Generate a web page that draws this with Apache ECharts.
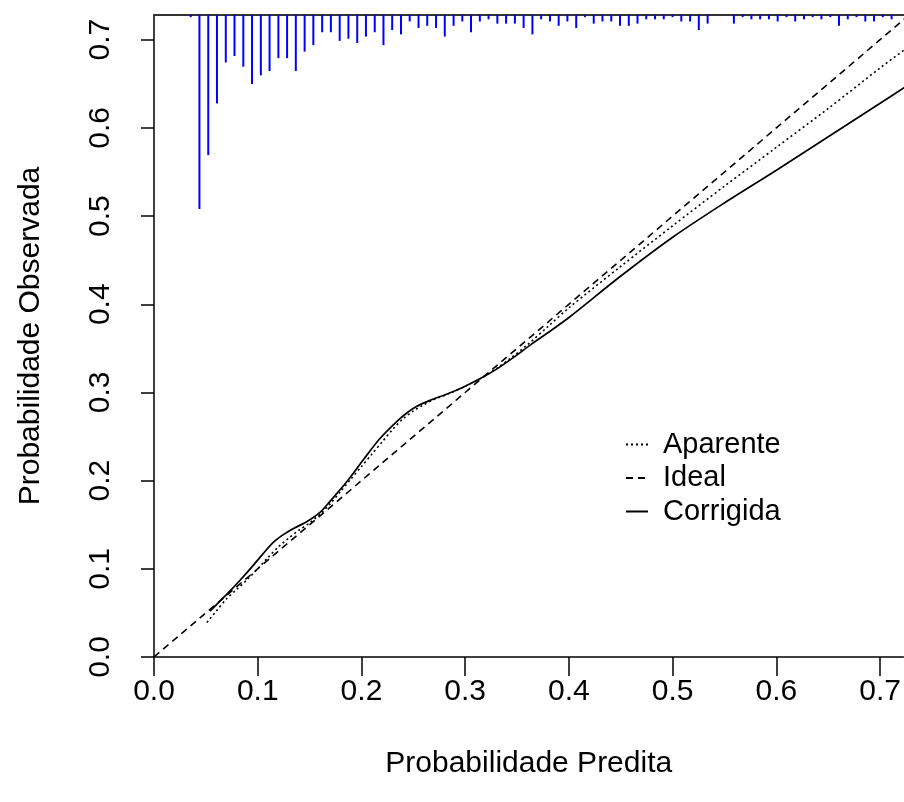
<!DOCTYPE html>
<html>
<head>
<meta charset="utf-8">
<script src="https://cdn.jsdelivr.net/npm/echarts@6/dist/echarts.min.js"></script>
<style>
  html, body { margin: 0; padding: 0; background: #ffffff; }
  #chart { width: 904px; height: 802px; }
</style>
</head>
<body>
<div id="chart"></div>
<script>
// Calibration curve: apparent, ideal and bias-corrected observed probability
const tickValues = [0, 0.1, 0.2, 0.3, 0.4, 0.5, 0.6, 0.7];

const aparenteX = [0.051, 0.060, 0.070, 0.080, 0.0894, 0.100, 0.110, 0.120, 0.130, 0.140, 0.150, 0.160, 0.170, 0.180, 0.190, 0.200, 0.210, 0.220, 0.230, 0.240, 0.250, 0.260, 0.270, 0.285, 0.300, 0.315, 0.330, 0.345, 0.360, 0.380, 0.400, 0.450, 0.500, 0.550, 0.600, 0.650, 0.700, 0.725];
const aparenteY = [0.039, 0.052, 0.066, 0.077, 0.0873, 0.100, 0.113, 0.125, 0.135, 0.144, 0.152, 0.162, 0.174, 0.188, 0.202, 0.216, 0.230, 0.244, 0.258, 0.270, 0.279, 0.286, 0.292, 0.299, 0.307, 0.316, 0.327, 0.340, 0.354, 0.375, 0.396, 0.443, 0.489, 0.534, 0.578, 0.622, 0.668, 0.690];

const idealX = [0, 0.73];
const idealY = [0, 0.73];

const corrigidaX = [0.054, 0.065, 0.075, 0.083, 0.095, 0.105, 0.115, 0.125, 0.135, 0.148, 0.160, 0.170, 0.186, 0.202, 0.218, 0.234, 0.244, 0.253, 0.266, 0.282, 0.298, 0.315, 0.331, 0.347, 0.363, 0.380, 0.400, 0.450, 0.500, 0.550, 0.600, 0.650, 0.700, 0.725];
const corrigidaY = [0.052, 0.065, 0.077, 0.087, 0.103, 0.117, 0.130, 0.139, 0.146, 0.154, 0.164, 0.177, 0.199, 0.224, 0.248, 0.267, 0.277, 0.284, 0.291, 0.298, 0.306, 0.316, 0.327, 0.340, 0.354, 0.368, 0.385, 0.432, 0.476, 0.515, 0.552, 0.590, 0.628, 0.647];

// Spike histogram of predicted probabilities (bin centre, frequency)
const histX = [0.0354, 0.0438, 0.0523, 0.0607, 0.0692, 0.0776, 0.0861, 0.0945, 0.1030, 0.1114,
  0.1199, 0.1283, 0.1367, 0.1452, 0.1536, 0.1621, 0.1705, 0.1790, 0.1874, 0.1959,
  0.2043, 0.2128, 0.2212, 0.2296, 0.2381, 0.2465, 0.2550, 0.2634, 0.2719, 0.2803,
  0.2888, 0.2972, 0.3056, 0.3141, 0.3225, 0.3310, 0.3394, 0.3479, 0.3563, 0.3648,
  0.3732, 0.3817, 0.3901, 0.3985, 0.4070, 0.4154, 0.4239, 0.4323, 0.4408, 0.4492,
  0.4577, 0.4661, 0.4745, 0.4830, 0.4914, 0.4999, 0.5083, 0.5168, 0.5252, 0.5337,
  0.5590, 0.5674, 0.5759, 0.5843, 0.5928, 0.6012, 0.6097, 0.6181, 0.6266, 0.6350,
  0.6434, 0.6519, 0.6603, 0.6688, 0.6772, 0.6857, 0.6941, 0.7026, 0.7110];
const histCount = [1, 90, 65, 41, 22, 19, 24, 32, 28, 26,
  20, 20, 26, 17, 14, 8, 8, 12, 11, 13,
  10, 8, 14, 7, 9, 3, 6, 5, 6, 10,
  5, 3, 8, 3, 2, 4, 4, 4, 6, 9,
  2, 3, 5, 3, 6, 1, 4, 3, 3, 5,
  5, 4, 2, 2, 2, 1, 3, 3, 7, 4,
  4, 1, 2, 2, 2, 3, 1, 3, 2, 1,
  2, 1, 5, 2, 1, 3, 3, 1, 2];

const zip = (xs, ys) => xs.map((x, i) => [x, ys[i]]);

const FONT = '"Liberation Sans", Arial, Helvetica, sans-serif';
const FS = 30;

const chart = echarts.init(document.getElementById('chart'), null, { renderer: 'canvas' });

const option = {
  backgroundColor: '#ffffff',
  animation: false,
  textStyle: { fontFamily: FONT, color: '#000' },
  grid: { left: 154, right: 0, top: 15, bottom: 145, containLabel: false },
  legend: {
    orient: 'vertical',
    left: 620,
    top: 424,
    itemWidth: 22,
    itemHeight: 12,
    itemGap: 2.5,
    itemStyle: { opacity: 0 },
    textStyle: { fontFamily: FONT, fontSize: 29, color: '#000', lineHeight: 31, padding: [0, 0, 0, 10] },
    data: ['Aparente', 'Ideal', 'Corrigida']
  },
  xAxis: [
    {
      type: 'value',
      min: 0,
      max: 0.7225,
      interval: 0.1,
      position: 'bottom',
      name: 'Probabilidade Predita',
      nameLocation: 'middle',
      nameGap: 92,
      nameTextStyle: { fontFamily: FONT, fontSize: FS, color: '#000' },
      axisLine: { show: true, onZero: false, lineStyle: { color: '#000', width: 1.5 } },
      axisTick: { show: true, length: 19, customValues: tickValues, lineStyle: { color: '#000', width: 1.5 } },
      axisLabel: {
        customValues: tickValues, margin: 20, fontFamily: FONT, fontSize: FS, color: '#000',
        formatter: v => v.toFixed(1)
      },
      splitLine: { show: false }
    },
    {
      type: 'value',
      min: 0,
      max: 0.7225,
      position: 'top',
      axisLine: { show: true, onZero: false, lineStyle: { color: '#333', width: 2 } },
      axisTick: { show: false },
      axisLabel: { show: false },
      splitLine: { show: false }
    }
  ],
  yAxis: [
    {
      type: 'value',
      min: 0,
      max: 0.728,
      interval: 0.1,
      name: 'Probabilidade Observada',
      nameLocation: 'middle',
      nameGap: 108,
      nameTextStyle: { fontFamily: FONT, fontSize: FS, color: '#000' },
      axisLine: { show: true, onZero: false, lineStyle: { color: '#000', width: 1.5 } },
      axisTick: { show: true, length: 13, customValues: tickValues, lineStyle: { color: '#000', width: 1.5 } },
      axisLabel: {
        customValues: tickValues, rotate: 90, margin: 38, fontFamily: FONT, fontSize: FS, color: '#000',
        formatter: v => v.toFixed(1)
      },
      splitLine: { show: false }
    },
    {
      // frequency scale for the spikes hanging from the top border
      type: 'value',
      min: 0,
      max: 297.8,
      inverse: true,
      show: false,
      splitLine: { show: false }
    }
  ],
  series: [
    {
      name: 'Histograma',
      type: 'custom',
      xAxisIndex: 0,
      yAxisIndex: 1,
      silent: true,
      data: zip(histX, histCount),
      renderItem: (params, api) => {
        const top = api.coord([api.value(0), 0]);
        const end = api.coord([api.value(0), api.value(1)]);
        return {
          type: 'line',
          shape: { x1: top[0], y1: top[1], x2: end[0], y2: end[1] },
          style: { stroke: '#0000ff', lineWidth: 2 }
        };
      },
      z: 1
    },
    {
      name: 'Aparente',
      type: 'line',
      data: zip(aparenteX, aparenteY),
      symbol: 'none',
      smooth: 0.3,
      lineStyle: { color: '#000', width: 1.6, type: [2, 3] },
      itemStyle: { color: '#000' },
      z: 3
    },
    {
      name: 'Ideal',
      type: 'line',
      data: zip(idealX, idealY),
      symbol: 'none',
      lineStyle: { color: '#000', width: 1.6, type: [7, 5] },
      itemStyle: { color: '#000' },
      z: 3
    },
    {
      name: 'Corrigida',
      type: 'line',
      data: zip(corrigidaX, corrigidaY),
      symbol: 'none',
      smooth: 0.3,
      lineStyle: { color: '#000', width: 1.7, type: 'solid' },
      itemStyle: { color: '#000' },
      z: 3
    }
  ]
};

chart.setOption(option);
</script>
</body>
</html>
